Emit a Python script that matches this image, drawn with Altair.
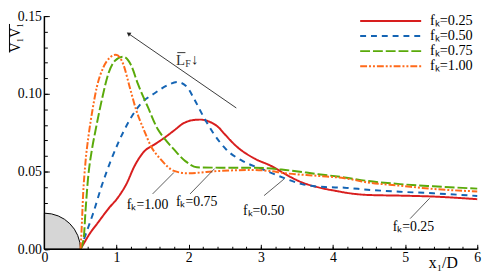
import altair as alt
import pandas as pd

FONT = "Liberation Serif"

series = ["f\u2096=0.25", "f\u2096=0.50", "f\u2096=0.75", "f\u2096=1.00"]
colors = ["#d81e1e", "#1464b4", "#5aaa0a", "#ff6a1a"]
dashes = [[1, 0], [6, 5], [10, 3], [7, 2, 2, 2, 2, 2]]

x_025 = [0.5, 0.55, 0.614, 0.75, 0.886, 1.023, 1.136, 1.25, 1.387, 1.523, 1.66, 1.80, 1.93, 2.05, 2.16,
         2.30, 2.40, 2.50, 2.66, 2.89, 3.16, 3.34, 3.57, 3.80, 4.02, 4.30, 4.50, 4.93, 5.39, 6.0]
y_025 = [0.0, 0.004, 0.009, 0.0176, 0.026, 0.0335, 0.0419, 0.0536, 0.0631, 0.0673, 0.0716, 0.0765, 0.0811,
         0.0830, 0.0834, 0.0818, 0.0790, 0.0740, 0.0663, 0.0589, 0.0532, 0.0483, 0.0430, 0.0398, 0.0377,
         0.0356, 0.0349, 0.0345, 0.0339, 0.0322]

x_050 = [0.5, 0.569, 0.682, 0.795, 0.91, 1.023, 1.10, 1.18, 1.34, 1.523, 1.705, 1.84, 1.977, 2.07, 2.205,
         2.34, 2.52, 2.75, 3.02, 3.30, 3.57, 3.89, 4.16, 4.48, 4.93, 5.39, 6.0]
y_050 = [0.0, 0.0091, 0.024, 0.0409, 0.0557, 0.0684, 0.0760, 0.0830, 0.0938, 0.1002, 0.1055, 0.1076,
         0.1044, 0.0972, 0.0853, 0.0748, 0.0642, 0.0567, 0.0515, 0.0462, 0.0419, 0.0400, 0.0396, 0.0383,
         0.0370, 0.0360, 0.0343]

x_075 = [0.5, 0.545, 0.569, 0.604, 0.659, 0.705, 0.795, 0.886, 0.978, 1.091, 1.204, 1.295, 1.432, 1.568,
         1.66, 1.796, 1.954, 2.114, 2.43, 2.887, 3.34, 3.795, 4.16, 4.47, 4.93, 5.39, 6.0]
y_075 = [0.0, 0.007, 0.024, 0.0451, 0.0642, 0.0756, 0.0959, 0.1129, 0.1213, 0.1239, 0.1182, 0.1065,
         0.0917, 0.0775, 0.0715, 0.0642, 0.0567, 0.0527, 0.0525, 0.0525, 0.0510, 0.0483, 0.0462, 0.0440,
         0.0419, 0.0405, 0.0390]

x_100 = [0.5, 0.515, 0.536, 0.569, 0.614, 0.659, 0.727, 0.818, 0.91, 0.991, 1.091, 1.182, 1.272, 1.387,
         1.477, 1.613, 1.796, 1.977, 2.43, 2.887, 3.11, 3.34, 3.79, 4.16, 4.48, 4.93, 5.39, 6.0]
y_100 = [0.0, 0.012, 0.0345, 0.0557, 0.0737, 0.0875, 0.1044, 0.1171, 0.1234, 0.1252, 0.1193, 0.1044,
         0.0896, 0.0759, 0.0663, 0.0578, 0.0504, 0.0489, 0.0504, 0.0510, 0.0504, 0.0489, 0.0472, 0.0457,
         0.0430, 0.0409, 0.0388, 0.0372]

x_major = [0, 1, 2, 3, 4, 5, 6]
x_minor = [round(i * 0.2, 1) for i in range(31)]
y_major = [0.0, 0.05, 0.10, 0.15]
y_minor = [round(i * 0.01, 2) for i in range(16)]

y_title = "V\u2081V\u2081"

ann_labels = ["f\u2096=1.00", "f\u2096=0.75", "f\u2096=0.50", "f\u2096=0.25"]
ann_tx = [1.43, 2.11, 3.04, 5.115]
ann_ty = [0.0282, 0.0306, 0.0243, 0.0142]
lead_x1 = [1.50, 2.02, 3.045, 5.07]
lead_y1 = [0.0356, 0.0356, 0.0345, 0.0197]
lead_x2 = [1.796, 2.36, 3.32, 5.34]
lead_y2 = [0.0494, 0.0519, 0.0451, 0.0328]

arrow_x = [2.66]
arrow_y = [0.0909]
arrow_x2 = [1.173]
arrow_y2 = [0.1385]

lf_x = [1.886]
lf_y = [0.1220]
lfsub_x = [1.99]
lfsub_y = [0.1193]
lfarrow_x = [2.085]
lfarrow_y = [0.1222]
lfbar_x = [1.842]
lfbar_x2 = [1.955]
lfbar_y = [0.1265]

W, H = 440, 237
xdom = [0, 6]
ydom = [0, 0.15]
xs = alt.Scale(domain=xdom, nice=False, zero=False)
ys = alt.Scale(domain=ydom, nice=False, zero=False)


def px_to_x(px):
    return xdom[0] + px / W * (xdom[1] - xdom[0])


def py_to_y(py):
    return ydom[1] - py / H * (ydom[1] - ydom[0])


rows = []
for name, xv, yv in zip(series, [x_025, x_050, x_075, x_100], [y_025, y_050, y_075, y_100]):
    for i, (a, b) in enumerate(zip(xv, yv)):
        rows.append({"series": name, "x": a, "y": b, "order": i})
df = pd.DataFrame(rows)

ann = pd.DataFrame({"label": ann_labels, "tx": ann_tx, "ty": ann_ty,
                    "x1": lead_x1, "y1": lead_y1, "x2": lead_x2, "y2": lead_y2})
arr = pd.DataFrame({"x": arrow_x, "y": arrow_y, "x2": arrow_x2, "y2": arrow_y2})

# legend layout (pixel offsets inside the plot area, converted to data units)
LEG_X0, LEG_X1, LEG_TX, LEG_Y0, LEG_DY = 321, 383, 392, 5, 15.3
leg = pd.DataFrame({
    "series": series,
    "lx1": [px_to_x(LEG_X0)] * len(series),
    "lx2": [px_to_x(LEG_X1)] * len(series),
    "tx": [px_to_x(LEG_TX)] * len(series),
    "ly": [py_to_y(LEG_Y0 + i * LEG_DY) for i in range(len(series))],
})

major_x = alt.Axis(values=x_major, format="d", tickSize=5, offset=-5, domain=False, grid=False,
                   labelPadding=1, labelFont=FONT, labelFontSize=14, labelColor="black",
                   tickColor="black", tickWidth=1, labelFlush=False, labelOverlap=False,
                   title="x\u2081/D", titleFont=FONT, titleFontSize=16, titleFontWeight="normal",
                   titleColor="black", titleX=405, titleY=19, titleAlign="center",
                   titleBaseline="middle", orient="bottom")
major_y = alt.Axis(values=y_major, format=".2f", tickSize=5, offset=-5, domain=False, grid=False,
                   labelPadding=3, labelFont=FONT, labelFontSize=14, labelColor="black",
                   tickColor="black", tickWidth=1, labelFlush=False, labelOverlap=False,
                   title=None, orient="left")
minor_x = alt.Axis(values=x_minor, tickSize=3, offset=-3, domain=False, grid=False, labels=False,
                   tickColor="black", tickWidth=1, title=None, orient="bottom")
minor_y = alt.Axis(values=y_minor, tickSize=3, offset=-3, domain=False, grid=False, labels=False,
                   tickColor="black", tickWidth=1, title=None, orient="left")

R = 0.5 * W / (xdom[1] - xdom[0])
circle = alt.Chart(pd.DataFrame({"a": [0]})).mark_arc(
    theta=0, theta2=1.5708, radius=R, fill="#d6d6d6", stroke="black", strokeWidth=1
).encode(x=alt.X(datum=0, scale=xs, axis=None), y=alt.Y(datum=0, scale=ys, axis=None))

color_enc = alt.Color("series:N", scale=alt.Scale(domain=series, range=colors), legend=None)
dash_enc = alt.StrokeDash("series:N", scale=alt.Scale(domain=series, range=dashes), legend=None)

lines = alt.Chart(df).mark_line(strokeWidth=2, interpolate="monotone").encode(
    x=alt.X("x:Q", scale=xs, axis=major_x),
    y=alt.Y("y:Q", scale=ys, axis=major_y),
    color=color_enc,
    strokeDash=dash_enc,
    order="order:Q",
)

minor = alt.Chart(df).mark_point(opacity=0).encode(
    x=alt.X("x:Q", scale=xs, axis=minor_x),
    y=alt.Y("y:Q", scale=ys, axis=minor_y),
)

xline = alt.Chart(pd.DataFrame({"a": [0]})).mark_rule(color="black", strokeWidth=1.5).encode(
    y=alt.Y(datum=0, scale=ys, axis=None))
yline = alt.Chart(pd.DataFrame({"a": [0]})).mark_rule(color="black", strokeWidth=1.5).encode(
    x=alt.X(datum=0, scale=xs, axis=None))

# y-axis title, rotated, with its overline (outside the plot area, in pixels)
ytitle = alt.Chart(pd.DataFrame({"t": [y_title]})).mark_text(
    font=FONT, fontSize=14, color="black", angle=270, align="center", baseline="middle").encode(
    x=alt.value(-29), y=alt.value(22), text="t:N")
ybar = alt.Chart(pd.DataFrame({"a": [0]})).mark_rule(color="black", strokeWidth=1).encode(
    x=alt.value(-35.5), y=alt.value(8), y2=alt.value(37))

leg_lines = alt.Chart(leg).mark_rule(strokeWidth=2).encode(
    x=alt.X("lx1:Q", scale=xs, axis=None), x2="lx2:Q",
    y=alt.Y("ly:Q", scale=ys, axis=None),
    color=color_enc, strokeDash=dash_enc)
leg_text = alt.Chart(leg).mark_text(font=FONT, fontSize=14.5, color="black", align="left",
                                    baseline="middle").encode(
    x=alt.X("tx:Q", scale=xs, axis=None), y=alt.Y("ly:Q", scale=ys, axis=None), text="series:N")

leaders = alt.Chart(ann).mark_rule(color="#333333", strokeWidth=0.8).encode(
    x=alt.X("x1:Q", scale=xs, axis=None), y=alt.Y("y1:Q", scale=ys, axis=None),
    x2="x2:Q", y2="y2:Q")
labels = alt.Chart(ann).mark_text(font=FONT, fontSize=14, color="black", baseline="middle").encode(
    x=alt.X("tx:Q", scale=xs, axis=None), y=alt.Y("ty:Q", scale=ys, axis=None), text="label:N")

arrow_line = alt.Chart(arr).mark_rule(color="#222222", strokeWidth=0.9).encode(
    x=alt.X("x:Q", scale=xs, axis=None), y=alt.Y("y:Q", scale=ys, axis=None), x2="x2:Q", y2="y2:Q")
arrow_head = alt.Chart(arr).mark_point(shape="triangle", angle=304.5, size=22, filled=True,
                                       color="#222222", opacity=1).encode(
    x=alt.X("x2:Q", scale=xs, axis=None), y=alt.Y("y2:Q", scale=ys, axis=None))

lf = alt.Chart(pd.DataFrame({"x": lf_x, "y": lf_y})).mark_text(
    font=FONT, fontSize=15, color="#333333", baseline="middle", text="L").encode(
    x=alt.X("x:Q", scale=xs, axis=None), y=alt.Y("y:Q", scale=ys, axis=None))
lfsub = alt.Chart(pd.DataFrame({"x": lfsub_x, "y": lfsub_y})).mark_text(
    font=FONT, fontSize=10, color="#333333", baseline="middle", text="F").encode(
    x=alt.X("x:Q", scale=xs, axis=None), y=alt.Y("y:Q", scale=ys, axis=None))
lfarrow = alt.Chart(pd.DataFrame({"x": lfarrow_x, "y": lfarrow_y})).mark_text(
    font=FONT, fontSize=15, color="#222222", baseline="middle", text="\u2193").encode(
    x=alt.X("x:Q", scale=xs, axis=None), y=alt.Y("y:Q", scale=ys, axis=None))
lfbar = alt.Chart(pd.DataFrame({"x": lfbar_x, "x2": lfbar_x2, "y": lfbar_y})).mark_rule(
    color="#333333", strokeWidth=1).encode(
    x=alt.X("x:Q", scale=xs, axis=None), x2="x2:Q", y=alt.Y("y:Q", scale=ys, axis=None))

chart = alt.layer(
    circle, minor, lines, xline, yline, ytitle, ybar, leg_lines, leg_text, leaders, labels,
    arrow_line, arrow_head, lf, lfsub, lfarrow, lfbar
).resolve_axis(x="independent", y="independent").properties(
    width=W, height=H,
    autosize=alt.AutoSizeParams(type="none"),
    padding={"left": 37, "top": 6, "right": 15, "bottom": 27},
    background="white",
).configure_view(stroke=None)

chart.save("out.html", embed_options={"renderer": "svg", "actions": False})
